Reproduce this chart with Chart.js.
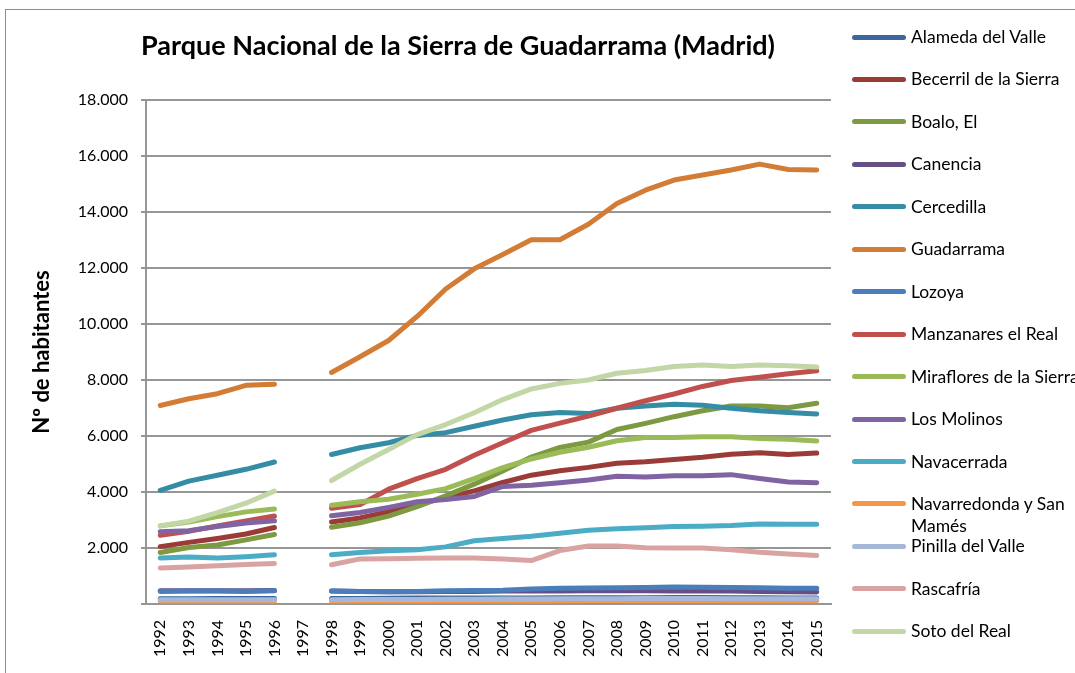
<!DOCTYPE html>
<html>
<head>
<meta charset="utf-8">
<script src="https://cdn.jsdelivr.net/npm/chart.js@4.4.1/dist/chart.umd.min.js"></script>
<style>
  body { margin: 0; background: #fff; font-family: Lato, sans-serif; }
  #wrap { position: relative; width: 1075px; height: 673px; overflow: hidden; }
  #frame { position: absolute; left: 5px; top: 9px; width: 1200px; height: 800px; border: 1px solid #8e8e8e; }
  #title { position: absolute; left: 0; top: 28px; width: 916px; text-align: center;
           font-weight: bold; font-size: 27px; color: #000; }
  canvas { position: absolute; left: 0; top: 0; }
  .item { position: absolute; left: 852px; height: 22px; white-space: nowrap; }
  .item .swatch { position: absolute; left: 0; top: 8.5px; width: 54px; height: 5px; border-radius: 3px; }
  .item .label { position: absolute; left: 59px; top: 0; font-size: 17.5px; line-height: 22px; color: #000; }
</style>
</head>
<body>
<div id="wrap">
  <div id="frame"></div>
  <canvas id="popChart" width="1075" height="673"></canvas>
  <div id="title">Parque Nacional de la Sierra de Guadarrama (Madrid)</div>
  <div id="legend"></div>
</div>
<script>
const years = ['1992','1993','1994','1995','1996','1997','1998','1999','2000','2001','2002','2003',
               '2004','2005','2006','2007','2008','2009','2010','2011','2012','2013','2014','2015'];

const alameda      = [190, 190, 195, 195, 200, null, 200, 200, 205, 210, 210, 210, 215, 215, 220, 220, 225, 225, 230, 230, 225, 220, 215, 215];
const becerril     = [2050, 2200, 2340, 2500, 2730, null, 2930, 3070, 3300, 3550, 3800, 4040, 4340, 4600, 4760, 4880, 5030, 5080, 5160, 5240, 5350, 5400, 5340, 5390];
const boalo        = [1840, 2020, 2110, 2290, 2480, null, 2740, 2900, 3140, 3480, 3860, 4280, 4750, 5250, 5590, 5780, 6230, 6450, 6690, 6900, 7070, 7070, 7010, 7170];
const canencia     = [470, 470, 470, 470, 480, null, 460, 450, 440, 440, 450, 450, 460, 460, 460, 470, 470, 470, 460, 460, 460, 450, 440, 430];
const cercedilla   = [4060, 4390, 4600, 4810, 5070, null, 5340, 5580, 5760, 6020, 6120, 6350, 6570, 6760, 6840, 6800, 6990, 7070, 7130, 7100, 6990, 6900, 6840, 6790];
const guadarrama   = [7090, 7330, 7510, 7810, 7850, null, 8270, 8830, 9410, 10270, 11250, 11970, 12480, 13010, 13010, 13560, 14300, 14780, 15140, 15320, 15500, 15710, 15520, 15500];
const lozoya       = [450, 460, 460, 450, 470, null, 460, 450, 440, 450, 470, 480, 490, 540, 560, 570, 580, 590, 610, 600, 590, 580, 560, 560];
const manzanares   = [2450, 2600, 2790, 2970, 3140, null, 3420, 3550, 4100, 4480, 4810, 5310, 5760, 6200, 6460, 6710, 6990, 7260, 7500, 7770, 7980, 8100, 8220, 8330];
const miraflores   = [2790, 2930, 3120, 3290, 3390, null, 3530, 3650, 3740, 3920, 4120, 4480, 4870, 5180, 5420, 5600, 5830, 5950, 5950, 5970, 5970, 5910, 5880, 5820];
const molinos      = [2580, 2620, 2770, 2890, 2970, null, 3150, 3270, 3450, 3650, 3730, 3840, 4200, 4240, 4330, 4430, 4560, 4540, 4580, 4580, 4620, 4480, 4360, 4330];
const navacerrada  = [1640, 1680, 1640, 1690, 1760, null, 1760, 1840, 1900, 1940, 2040, 2260, 2340, 2420, 2530, 2630, 2690, 2720, 2770, 2780, 2800, 2860, 2850, 2850];
const navarredonda = [110, 110, 110, 110, 110, null, 110, 110, 110, 110, 115, 115, 115, 120, 120, 125, 125, 125, 125, 125, 120, 120, 120, 115];
const pinilla      = [150, 150, 150, 155, 155, null, 155, 160, 160, 165, 170, 170, 175, 180, 185, 190, 190, 195, 195, 195, 190, 190, 185, 185];
const rascafria    = [1290, 1320, 1370, 1410, 1450, null, 1400, 1610, 1620, 1630, 1640, 1640, 1610, 1550, 1910, 2070, 2070, 2010, 2000, 2000, 1940, 1850, 1790, 1730];
const soto         = [2790, 2960, 3260, 3600, 4030, null, 4410, 4990, 5520, 6050, 6410, 6830, 7300, 7680, 7880, 8000, 8240, 8340, 8480, 8540, 8480, 8540, 8510, 8460];

const names = ['Alameda del Valle', 'Becerril de la Sierra', 'Boalo, El', 'Canencia', 'Cercedilla',
               'Guadarrama', 'Lozoya', 'Manzanares el Real', 'Miraflores de la Sierra', 'Los Molinos',
               'Navacerrada', 'Navarredonda y San Mamés', 'Pinilla del Valle', 'Rascafría', 'Soto del Real'];
const series = [alameda, becerril, boalo, canencia, cercedilla, guadarrama, lozoya, manzanares,
                miraflores, molinos, navacerrada, navarredonda, pinilla, rascafria, soto];
const colors = ['#3c679e', '#9a3b38', '#7d9a43', '#664f87', '#358da5', '#d27c35', '#4a7ebb', '#c0504d',
                '#9bbb59', '#8064a2', '#4bacc6', '#f79646', '#a5b8d8', '#d9a3a1', '#c3d6a6'];

const gridGray = '#969696';

const datasets = series.map((values, i) => ({
  label: names[i],
  data: values,
  borderColor: colors[i],
  backgroundColor: colors[i],
  borderWidth: 5,
  borderCapStyle: 'round',
  borderJoinStyle: 'round',
  pointRadius: 0,
  tension: 0,
  spanGaps: false,
  order: series.length - i   // later series drawn on top, like the original
}));

const ctx = document.getElementById('popChart').getContext('2d');
const popChart = new Chart(ctx, {
  type: 'line',
  data: { labels: years, datasets: datasets },
  options: {
    responsive: false,
    animation: false,
    devicePixelRatio: 1,
    layout: { padding: { top: 100, right: 244, bottom: 0, left: 0 } },
    plugins: {
      legend: { display: false },
      title: { display: false },
      tooltip: { enabled: false }
    },
    scales: {
      y: {
        min: 0,
        max: 18000,
        ticks: {
          stepSize: 2000,
          padding: 13,
          color: '#000',
          font: { family: 'Lato', size: 16 },
          callback: v => v === 0 ? '' : v.toLocaleString('de-DE')
        },
        grid: { color: gridGray, lineWidth: 2, tickLength: 5 },
        border: { color: gridGray, width: 2 },
        title: {
          display: true,
          text: 'Nº de habitantes',
          color: '#000',
          font: { family: 'Lato', size: 22, weight: 'bold' },
          padding: { top: 29, bottom: 0 }
        },
        afterFit: scale => { scale.width = 146; }
      },
      x: {
        offset: true,
        ticks: {
          minRotation: 90,
          maxRotation: 90,
          padding: 8,
          color: '#000',
          font: { family: 'Lato', size: 16 }
        },
        grid: { display: false },
        border: { color: gridGray, width: 2 },
        afterFit: scale => { scale.height = 69; }
      }
    }
  }
});

// legend to the right, built from the datasets
const legendBox = document.getElementById('legend');
popChart.data.datasets.forEach((ds, i) => {
  const item = document.createElement('div');
  item.className = 'item';
  item.style.top = (26 + i * 42.45) + 'px';
  const sw = document.createElement('div');
  sw.className = 'swatch';
  sw.style.background = ds.borderColor;
  const lab = document.createElement('div');
  lab.className = 'label';
  lab.innerHTML = ds.label === 'Navarredonda y San Mamés' ? 'Navarredonda y San<br>Mamés' : ds.label;
  item.appendChild(sw);
  item.appendChild(lab);
  legendBox.appendChild(item);
});
</script>
</body>
</html>
